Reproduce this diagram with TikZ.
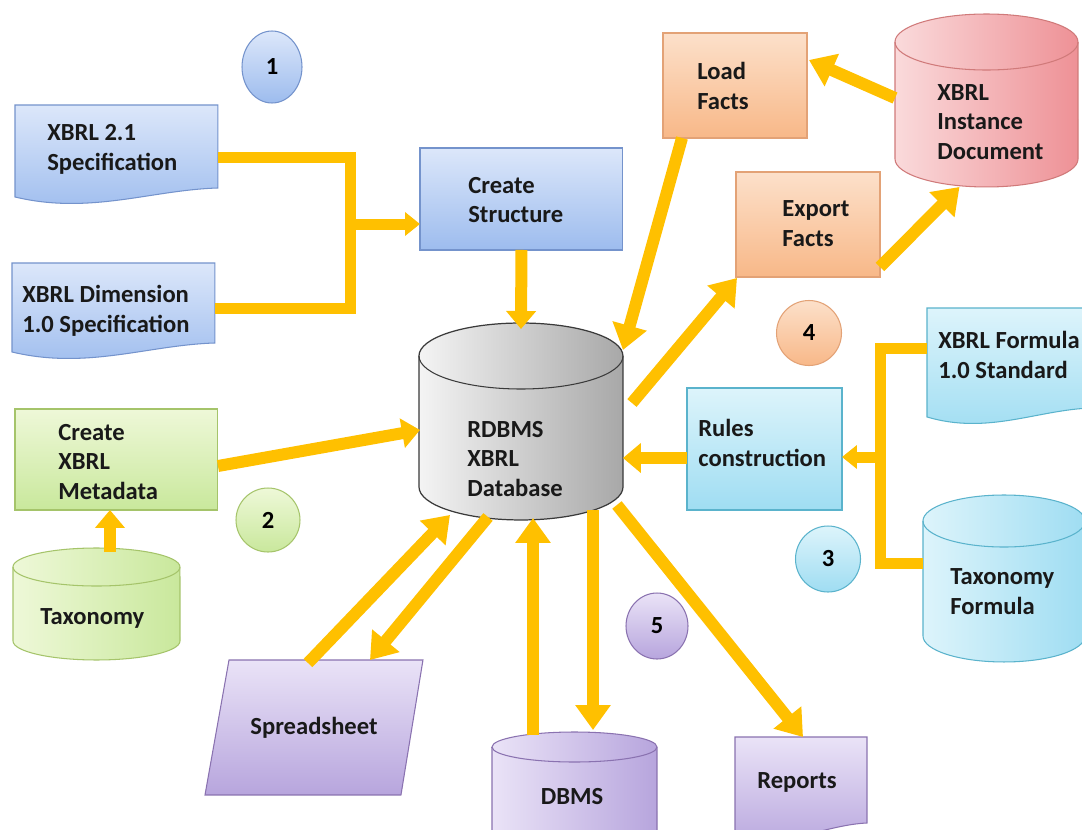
\documentclass[tikz,border=0pt]{standalone}
\usepackage{fontspec}
\setmainfont{Carlito}
\usetikzlibrary{arrows.meta,calc,shapes.geometric}

% palette
\definecolor{arrowc}{HTML}{FFC000}
\definecolor{blueA}{HTML}{DCE7FA}\definecolor{blueB}{HTML}{9DBCEE}\definecolor{blueE}{HTML}{7493CC}
\definecolor{greenA}{HTML}{EEF8D8}\definecolor{greenB}{HTML}{C9E89C}\definecolor{greenE}{HTML}{A5C46A}
\definecolor{grayA}{HTML}{F4F4F4}\definecolor{grayB}{HTML}{A8A8A8}\definecolor{grayE}{HTML}{3A3A3A}
\definecolor{orangeA}{HTML}{FCE0CA}\definecolor{orangeB}{HTML}{F8B888}\definecolor{orangeE}{HTML}{E3A276}
\definecolor{pinkA}{HTML}{FADADB}\definecolor{pinkB}{HTML}{EE9196}\definecolor{pinkE}{HTML}{D07A7A}
\definecolor{cyanA}{HTML}{DDF4FB}\definecolor{cyanB}{HTML}{9FDDF2}\definecolor{cyanE}{HTML}{5AB3CC}
\definecolor{purpleA}{HTML}{EAE3F7}\definecolor{purpleB}{HTML}{B7A5DD}\definecolor{purpleE}{HTML}{8A72B0}

% cylinder outline around a node: #1 node, #2 ellipse half-height (px),
% #3 half-width (px), #4 fill style, #5 edge colour
\newcommand\cylpath[5]{%
  \path[#4] ($(#1.north west)+(0,#2)$) -- ($(#1.south west)+(0,-#2)$)
    arc[start angle=180, end angle=360, x radius=#3*0.02cm, y radius=#2*0.02cm]
    -- ($(#1.north east)+(0,#2)$)
    arc[start angle=0, end angle=180, x radius=#3*0.02cm, y radius=#2*0.02cm] -- cycle;
  \draw[#5, line width=0.6pt] ($(#1.north west)+(0,#2)$)
    arc[start angle=180, end angle=360, x radius=#3*0.02cm, y radius=#2*0.02cm];
}
% document outline (wavy lower edge) around a node: #1 node, #2 style
\newcommand\docpath[2]{%
  \path[#2] (#1.north west) -- (#1.north east) -- ($(#1.south east)+(0,-12)$)
    .. controls ($(#1.south east)!0.33!(#1.south west)+(0,-10)$)
           and ($(#1.south east)!0.63!(#1.south west)+(0,15)$) ..
    ($(#1.south west)+(0,-3)$) -- cycle;
}

\begin{document}
\begin{tikzpicture}[x=0.02cm, y=-0.02cm,
  holder/.style={draw=none, inner sep=0pt, outer sep=0pt, anchor=north west},
  lbl/.style={inner sep=0pt, align=left, text=black!90,
    font=\fontsize{14}{17}\selectfont\bfseries},
  num/.style={ellipse, inner sep=0pt, line width=0.6pt,
    font=\fontsize{14}{17}\selectfont\bfseries},
  vblue/.style={top color=blueA, bottom color=blueB, draw=blueE, line width=0.6pt},
  vgreen/.style={top color=greenA, bottom color=greenB, draw=greenE, line width=0.6pt},
  vorange/.style={top color=orangeA, bottom color=orangeB, draw=orangeE, line width=0.6pt},
  vcyan/.style={top color=cyanA, bottom color=cyanB, draw=cyanE, line width=0.6pt},
  vpurple/.style={top color=purpleA, bottom color=purpleB, draw=purpleE, line width=0.6pt},
  hgray/.style={left color=grayA, right color=grayB, draw=grayE, line width=0.7pt},
  hpink/.style={left color=pinkA, right color=pinkB, draw=pinkE, line width=0.6pt},
  hgreen/.style={left color=greenA, right color=greenB, draw=greenE, line width=0.6pt},
  hcyan/.style={left color=cyanA, right color=cyanB, draw=cyanE, line width=0.6pt},
  hpurple/.style={left color=purpleA, right color=purpleB, draw=purpleE, line width=0.6pt},
  conn/.style={draw=arrowc, line width=0.24cm},
  bar/.style={draw=arrowc, line width=0.22cm, line join=miter},
  bigtip/.tip={Triangle[width=0.68cm,length=0.5cm]},
  midtip/.tip={Triangle[width=0.58cm,length=0.36cm]},
  smalltip/.tip={Triangle[width=0.46cm,length=0.3cm]}
]
\useasboundingbox (0,0) rectangle (1082,829);
\fill[white] (0,0) rectangle (1082,829);
\clip (0,0) rectangle (1082,829);

% ---------- shape holders ----------
\node[holder, minimum width=4.06cm, minimum height=1.90cm] (d1) at (15,105) {};
\node[holder, minimum width=4.06cm, minimum height=1.84cm] (d2) at (12,263) {};
\node[holder, minimum width=4.06cm, minimum height=2.04cm, vblue] (cs) at (420,148) {};
\node[holder, minimum width=4.06cm, minimum height=2.02cm, vgreen] (md) at (15,409) {};
\node[holder, minimum width=3.34cm, minimum height=2.24cm] (tax) at (13,548) {};
\node[holder, minimum width=2.88cm, minimum height=2.10cm, vorange] (lf) at (663,33) {};
\node[holder, minimum width=2.88cm, minimum height=2.10cm, vorange] (ef) at (736,172) {};
\node[holder, minimum width=3.66cm, minimum height=3.46cm] (inst) at (895,14) {};
\node[holder, minimum width=4.08cm, minimum height=3.94cm] (db) at (419,323) {};
\node[holder, minimum width=3.10cm, minimum height=2.44cm, vcyan] (rc) at (687,388) {};
\node[holder, minimum width=3.28cm, minimum height=2.24cm] (fd) at (927,308) {};
\node[holder, minimum width=3.24cm, minimum height=3.34cm] (tf) at (923,495) {};
\node[holder, minimum width=4.36cm, minimum height=2.70cm] (ss) at (205,660) {};
\node[holder, minimum width=3.30cm, minimum height=2.26cm] (dbms) at (492,732) {};
\node[holder, minimum width=2.64cm, minimum height=1.96cm] (rep) at (735,737) {};

% ---------- outlines ----------
\docpath{d1}{vblue}
\docpath{d2}{vblue}
\docpath{fd}{vcyan}
\docpath{rep}{vpurple}
\cylpath{db}{33}{102}{hgray}{grayE}
\cylpath{inst}{28}{91.5}{hpink}{pinkE}
\cylpath{tf}{26}{81}{hcyan}{cyanE}
\cylpath{tax}{19}{83.5}{hgreen}{greenE}
\cylpath{dbms}{15}{82.5}{hpurple}{purpleE}
\path[vpurple] ($(ss.north west)+(24,0)$) -- (ss.north east)
  -- ($(ss.south east)+(-22,0)$) -- (ss.south west) -- cycle;

% ---------- step numbers ----------
\node[num, vblue, minimum width=1.20cm, minimum height=1.44cm] (n1) at (272,67) {1};
\node[num, vgreen, minimum width=1.28cm, minimum height=1.28cm] (n2) at (268,520) {2};
\node[num, vcyan, minimum width=1.30cm, minimum height=1.32cm] (n3) at (828,559) {3};
\node[num, vorange, minimum width=1.30cm, minimum height=1.30cm] (n4) at (809,333) {4};
\node[num, vpurple, minimum width=1.24cm, minimum height=1.32cm] (n5) at (657,626) {5};

% ---------- labels ----------
\node[lbl, anchor=west] (d1-t) at (47,149) {XBRL 2.1\\Specification};
\node[lbl, anchor=west] (d2-t) at (22,311) {XBRL Dimension\\1.0 Specification};
\node[lbl, anchor=west] (cs-t) at (468,200) {Create\\Structure};
\node[lbl, anchor=west] (md-t) at (58,462) {Create\\XBRL\\Metadata};
\node[lbl, anchor=west] (tax-t) at (40,618) {Taxonomy};
\node[lbl, anchor=west] (lf-t) at (697,86) {Load\\Facts};
\node[lbl, anchor=west] (ef-t) at (782,224) {Export\\Facts};
\node[lbl, anchor=west] (inst-t) at (937,122) {XBRL\\Instance\\Document};
\node[lbl, anchor=west] (db-t) at (467,459) {RDBMS\\XBRL\\Database};
\node[lbl, anchor=west] (rc-t) at (698,443) {Rules\\construction};
\node[lbl, anchor=west] (fd-t) at (938,355) {XBRL Formula\\1.0 Standard};
\node[lbl, anchor=west] (tf-t) at (950,592) {Taxonomy\\Formula};
\node[lbl] (ss-t) at (314,728) {Spreadsheet};
\node[lbl] (dbms-t) at (572,797) {DBMS};
\node[lbl] (rep-t) at (797,782) {Reports};

% ---------- connectors ----------
\coordinate (j1) at (350,157);
\coordinate (j2) at (350,308);
\coordinate (jm) at (350,224);
\draw[bar] ($(d1.north east)+(0,52)$) -- (j1) -- (j2) -- ($(d2.north east)+(0,45)$);
\draw[conn, line width=0.22cm, -smalltip] (jm) -- (jm -| cs.west);
\draw[conn, -midtip] (cs.south) -- ($(db.north)+(0,6)$);

\draw[conn, -midtip] ($(md.north east)+(0,57)$) -- ($(db.north west)+(1,107)$);
\coordinate (taxtop) at ($(tax.north)+(13.5,4)$);
\draw[conn, -midtip] (taxtop) -- (taxtop |- md.south);

\draw[conn, -bigtip] ($(lf.south west)+(19,0)$) -- ($(db.north east)+(0,27)$);
\draw[conn, -bigtip] ($(db.north east)+(9,80)$) -- ($(ef.south west)+(1,1)$);
\draw[conn, -bigtip] ($(ef.south east)+(0,-10)$) -- ($(inst.south)+(-27,0)$);
\draw[conn, -bigtip] ($(inst.north west)+(0,84)$) -- ($(lf.north east)+(2,27)$);

\coordinate (k1) at (880,348);
\coordinate (k2) at (880,563);
\coordinate (km) at (880,457);
\draw[bar] ($(fd.north west)+(0,40)$) -- (k1) -- (k2) -- ($(tf.north west)+(0,68)$);
\draw[conn, line width=0.22cm, -smalltip] (km) -- (km -| rc.east);
\coordinate (rcout) at ($(rc.north west)+(0,70)$);
\draw[conn, -midtip] (rcout) -- (rcout -| db.east);

\draw[conn, -bigtip] ($(ss.north west)+(103,3)$) -- ($(db.south west)+(31,-5)$);
\draw[conn, -bigtip] ($(db.south west)+(69,-3)$) -- ($(ss.north west)+(165,0)$);
\draw[conn, -bigtip] ($(dbms.north west)+(41,3)$) -- ($(db.south west)+(114,-2)$);
\draw[conn, -bigtip] ($(db.south west)+(174,-10)$) -- ($(dbms.north west)+(101,-2)$);
\draw[conn, -bigtip] ($(db.south east)+(-6,-15)$) -- ($(rep.north west)+(68,0)$);
\end{tikzpicture}
\end{document}
